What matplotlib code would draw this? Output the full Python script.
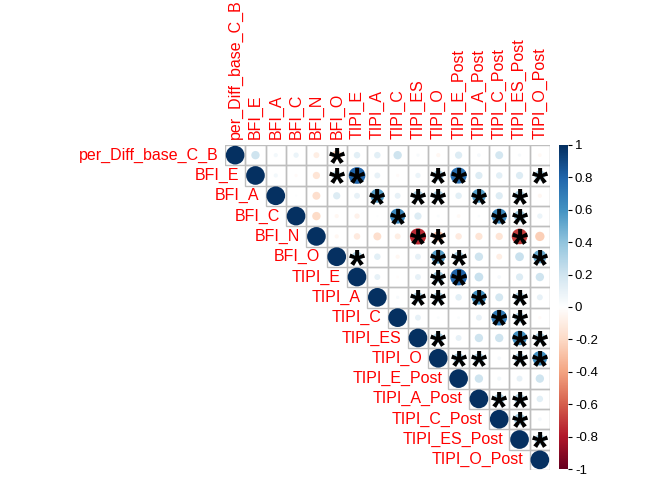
import numpy as np
import matplotlib.pyplot as plt
from matplotlib.colors import LinearSegmentedColormap
from matplotlib.patches import Circle, Rectangle
from matplotlib.textpath import TextPath
from matplotlib.font_manager import FontProperties
from matplotlib.transforms import ScaledTranslation

plt.rcParams['font.family'] = ['Liberation Sans', 'DejaVu Sans']

labels = ["per_Diff_base_C_B", "BFI_E", "BFI_A", "BFI_C", "BFI_N", "BFI_O",
          "TIPI_E", "TIPI_A", "TIPI_C", "TIPI_ES", "TIPI_O",
          "TIPI_E_Post", "TIPI_A_Post", "TIPI_C_Post", "TIPI_ES_Post", "TIPI_O_Post"]

# upper triangle, row by row (values right of the diagonal)
upper_rows = [
    [0.20, 0.05, 0.08, -0.10, -0.25, 0.12, 0.12, 0.20, 0.03, -0.05, 0.15, 0.04, 0.18, 0.03, -0.04],
    [0.05, -0.03, -0.15, 0.25, 0.80, 0.10, -0.03, 0.08, 0.30, 0.75, 0.15, 0.12, 0.15, 0.30],
    [0.01, -0.18, 0.15, 0.10, 0.55, 0.10, 0.30, 0.30, 0.12, 0.55, 0.15, 0.30, -0.05],
    [-0.20, -0.05, -0.08, 0.01, 0.65, 0.15, 0.02, -0.04, 0.02, 0.65, 0.35, 0.08],
    [-0.05, -0.12, -0.18, -0.10, -0.75, -0.30, -0.12, -0.15, -0.15, -0.70, -0.25],
    [0.30, 0.12, -0.05, 0.10, 0.55, 0.30, 0.20, -0.10, 0.22, 0.50],
    [0.10, -0.02, 0.10, 0.35, 0.80, 0.22, 0.04, 0.15, 0.20],
    [0.03, 0.30, 0.30, 0.12, 0.60, 0.18, 0.30, 0.10],
    [0.10, 0.02, 0.02, 0.10, 0.70, 0.30, -0.03],
    [0.30, 0.10, 0.20, 0.20, 0.60, 0.30],
    [0.30, 0.30, 0.04, 0.30, 0.60],
    [0.20, 0.05, 0.10, 0.20],
    [0.30, 0.30, 0.12],
    [0.35, 0.04],
    [0.30],
]

# significant cells (p < 0.05), as (row, col)
sig_cells = [(0, 5),
             (1, 5), (1, 6), (1, 10), (1, 11), (1, 15),
             (2, 7), (2, 9), (2, 10), (2, 12), (2, 14),
             (3, 8), (3, 13), (3, 14),
             (4, 9), (4, 10), (4, 14),
             (5, 6), (5, 10), (5, 11), (5, 15),
             (6, 10), (6, 11),
             (7, 9), (7, 10), (7, 12), (7, 14),
             (8, 13), (8, 14),
             (9, 10), (9, 14), (9, 15),
             (10, 11), (10, 12), (10, 14), (10, 15),
             (12, 13), (12, 14),
             (13, 14),
             (14, 15)]

cbar_ticks = [-1, -0.8, -0.6, -0.4, -0.2, 0, 0.2, 0.4, 0.6, 0.8, 1]
cbar_labels = ["-1", "-0.8", "-0.6", "-0.4", "-0.2", "0", "0.2", "0.4", "0.6", "0.8", "1"]

n = len(labels)
corr = np.eye(n)
for i, row in enumerate(upper_rows):
    for k, v in enumerate(row):
        corr[i, i + 1 + k] = v

cmap = LinearSegmentedColormap.from_list("rdbu", [
    "#67001F", "#B2182B", "#D6604D", "#F4A582", "#FDDBC7", "#FFFFFF",
    "#D1E5F0", "#92C5DE", "#4393C3", "#2166AC", "#053061"], N=200)

fig = plt.figure(figsize=(6.72, 4.8), dpi=100)
ax = fig.add_axes([225 / 672, 1 - 470 / 480, 325 / 672, 325 / 480])
ax.set_xlim(0, n)
ax.set_ylim(n, 0)
ax.set_aspect('equal')
ax.axis('off')

for i in range(n):
    for j in range(i, n):
        ax.add_patch(Rectangle((j, i), 1, 1, fill=False, edgecolor='#BEBEBE', lw=1))
        v = corr[i, j]
        col = cmap((v + 1) / 2)
        ax.add_patch(Circle((j + 0.5, i + 0.5), 0.46 * np.sqrt(abs(v)),
                            facecolor=col, edgecolor='none'))

# asterisks: shift so the glyph's ink is centred in the cell
star_size = 30
tp = TextPath((0, 0), "*", size=star_size,
              prop=FontProperties(family='Liberation Sans', weight='bold'))
ext = tp.get_extents()
cy = (ext.y0 + ext.y1) / 2
shift = ax.transData + ScaledTranslation(0, -cy / 72, fig.dpi_scale_trans)
for (i, j) in sig_cells:
    ax.text(j + 0.5, i + 0.5, "*", ha='center', va='baseline', transform=shift,
            fontsize=star_size, fontweight='bold', color='black')

# labels
for i, lab in enumerate(labels):
    ax.text(i - 0.3, i + 0.5, lab, ha='right', va='center', color='red', fontsize=11.5)
    ax.text(i + 0.5, -0.3, lab, ha='center', va='bottom', rotation=90,
            color='red', fontsize=11.5)

# colorbar
cax = fig.add_axes([559 / 672, 1 - 469 / 480, 9 / 672, 324 / 480])
grad = np.linspace(-1, 1, 200).reshape(-1, 1)
cax.imshow(grad, aspect='auto', cmap=cmap, origin='lower', extent=[0, 1, -1, 1])
cax.set_xticks([])
cax.yaxis.tick_right()
cax.set_yticks(cbar_ticks)
cax.set_yticklabels(cbar_labels, fontsize=9.5)
cax.tick_params(axis='y', length=3, width=0.8, pad=2)
for s in cax.spines.values():
    s.set_visible(False)

fig.savefig("out.png", dpi=100)
